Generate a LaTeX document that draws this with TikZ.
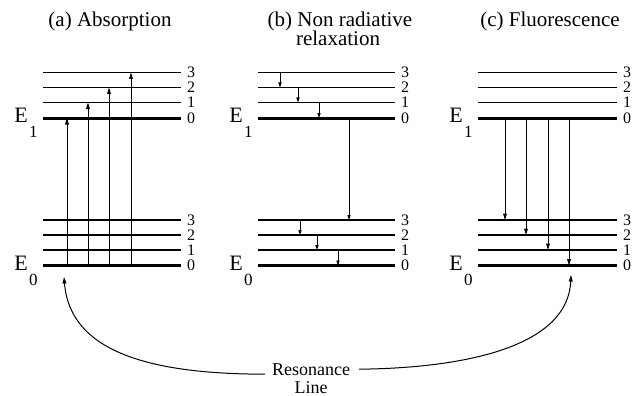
\documentclass[tikz,border=0pt]{standalone}
\usepackage{fontspec}
\setmainfont{Liberation Serif}
\usetikzlibrary{arrows.meta}
\begin{document}
\begin{tikzpicture}[x=1pt,y=-1pt,
  level/.style={line width=1.1pt},
  ground/.style={line width=3pt},
  trans/.style={line width=1pt,-{Triangle[length=6.5pt,width=3.8pt]}},
  relax/.style={line width=0.8pt,-{Triangle[length=5pt,width=3.2pt]}},
  curve/.style={line width=1pt,-{Triangle[length=6.5pt,width=3.8pt]}},
  num/.style={font=\fontsize{16}{16}\selectfont, inner sep=0pt, anchor=west},
  elab/.style={font=\fontsize{22}{22}\selectfont, inner sep=0pt, anchor=base},
  esub/.style={font=\fontsize{17}{17}\selectfont, inner sep=0pt, anchor=base west},
  title/.style={font=\fontsize{21}{21}\selectfont, inner sep=0pt, anchor=base},
  reslab/.style={font=\fontsize{18}{18}\selectfont, inner sep=0pt, anchor=base}
]
\path[use as bounding box] (0,0) rectangle (643,396);

% vibrational levels of the two electronic states, one ladder per panel
\foreach \p/\xs/\xe in {a/43/181, b/258/395, c/478/617} {
  \foreach \n/\y/\v/\st in {u3/72.5/3/level, u2/87.5/2/level, u1/102.5/1/level, u0/118/0/ground,
                            l3/220/3/level, l2/235/2/level, l1/250/1/level, l0/265.5/0/ground} {
    \coordinate (\p-\n) at (\xs,\y);
    \coordinate (\p-\n e) at (\xe,\y);
    \draw[\st] (\p-\n) -- (\p-\n e);
    \node[num] (\p-v\n) at ([xshift=6pt]\p-\n e) {\v};
  }
  % electronic state labels
  \node[elab] (\p-E1) at ([xshift=-22pt,yshift=-4pt]\p-u0) {E};
  \node[esub] (\p-E1s) at ([xshift=1pt,yshift=-15pt]\p-E1.base east) {1};
  \node[elab] (\p-E0) at ([xshift=-22pt,yshift=-4.5pt]\p-l0) {E};
  \node[esub] (\p-E0s) at ([xshift=1pt,yshift=-15pt]\p-E0.base east) {0};
}

% titles
\node[title] (ta) at (110,27) {(a) Absorption};
\node[title] (tb) at (340,27) {(b) Non radiative};
\node[title] (tb2) at (338,46) {relaxation};
\node[title] (tc) at (550,27) {(c) Fluorescence};

% (a) absorption from the ground level
\draw[trans] ([xshift=24pt]a-l0) -- ([xshift=24pt]a-u0);
\draw[trans] ([xshift=45pt]a-l0) -- ([xshift=45pt]a-u1);
\draw[trans] ([xshift=66pt]a-l0) -- ([xshift=66pt]a-u2);
\draw[trans] ([xshift=88pt]a-l0) -- ([xshift=88pt]a-u3);

% (b) non radiative cascade
\draw[relax] ([xshift=22pt]b-u3) -- ([xshift=22pt]b-u2);
\draw[relax] ([xshift=40pt]b-u2) -- ([xshift=40pt]b-u1);
\draw[relax] ([xshift=61pt]b-u1) -- ([xshift=61pt]b-u0);
\draw[relax] ([xshift=91pt]b-u0) -- ([xshift=91pt]b-l3);
\draw[relax] ([xshift=42pt]b-l3) -- ([xshift=42pt]b-l2);
\draw[relax] ([xshift=59pt]b-l2) -- ([xshift=59pt]b-l1);
\draw[relax] ([xshift=80pt]b-l1) -- ([xshift=80pt]b-l0);

% (c) fluorescence from the lowest excited level
\draw[trans] ([xshift=27pt]c-u0) -- ([xshift=27pt]c-l3);
\draw[trans] ([xshift=48pt]c-u0) -- ([xshift=48pt]c-l2);
\draw[trans] ([xshift=70pt]c-u0) -- ([xshift=70pt]c-l1);
\draw[trans] ([xshift=91pt]c-u0) -- ([xshift=91pt]c-l0);

% resonance line
\node[reslab] (res) at (311,375) {Resonance};
\node[reslab] (resl) at (311,393) {Line};
\coordinate (tipA) at (64,277);
\coordinate (tipC) at (571,275);
\draw[curve] ([xshift=-7pt,yshift=-5pt]res.west) .. controls (150,374) and (70,352) .. (tipA);
\draw[curve] ([xshift=9pt]res.east) .. controls (470,368) and (568,345) .. (tipC);
\end{tikzpicture}
\end{document}
